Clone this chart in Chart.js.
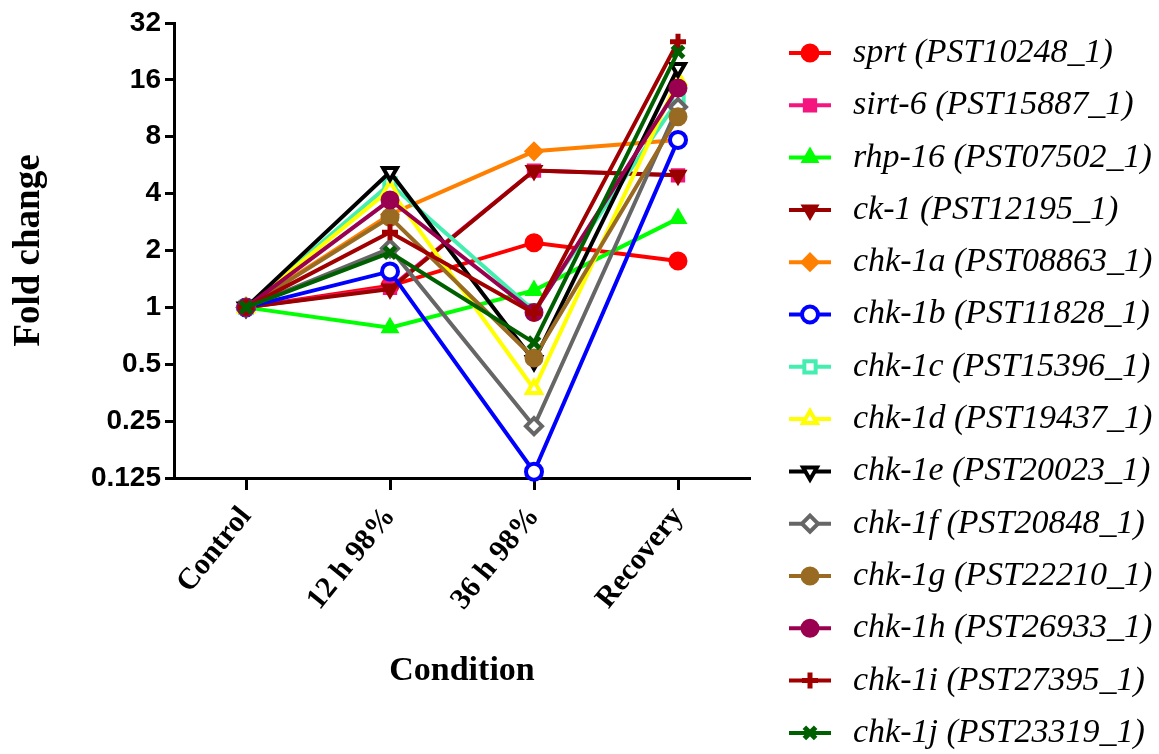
<!DOCTYPE html>
<html lang="en">
<head>
  <meta charset="UTF-8" />
  <title>Fold change</title>
  <script src="https://cdn.jsdelivr.net/npm/chart.js"></script>
  <style>
    html, body {
      margin: 0;
      padding: 0;
      background: #ffffff;
    }
    #grafico {
      display: block;
    }
  </style>
</head>
<body>
  <canvas id="grafico" width="1159" height="754"></canvas>

  <script>
    // categories and tick labels
    const categories = ['Control', '12 h 98%', '36 h 98%', 'Recovery'];
    const yTicks = [0.125, 0.25, 0.5, 1, 2, 4, 8, 16, 32];

    // series names (legend)
    const genes = [
      'sprt (PST10248_1)', 'sirt-6 (PST15887_1)', 'rhp-16 (PST07502_1)', 'ck-1 (PST12195_1)',
      'chk-1a (PST08863_1)', 'chk-1b (PST11828_1)', 'chk-1c (PST15396_1)', 'chk-1d (PST19437_1)',
      'chk-1e (PST20023_1)', 'chk-1f (PST20848_1)', 'chk-1g (PST22210_1)', 'chk-1h (PST26933_1)',
      'chk-1i (PST27395_1)', 'chk-1j (PST23319_1)'
    ];

    // fold change values
    const sprt  = [1, 1.30, 2.20, 1.76];
    const sirt6 = [1, 1.27, 5.30, 5.00];
    const rhp16 = [1, 0.78, 1.23, 2.95];
    const ck1   = [1, 1.25, 5.30, 5.00];
    const chk1a = [1, 3.10, 6.70, 7.70];
    const chk1b = [1, 1.55, 0.135, 7.70];
    const chk1c = [1, 4.50, 0.96, 12.5];
    const chk1d = [1, 4.20, 0.37, 16.0];
    const chk1e = [1, 5.20, 0.52, 18.5];
    const chk1f = [1, 2.05, 0.235, 11.5];
    const chk1g = [1, 3.00, 0.54, 10.2];
    const chk1h = [1, 3.70, 0.94, 14.5];
    const chk1i = [1, 2.50, 0.93, 25.5];
    const chk1j = [1, 1.95, 0.65, 22.5];

    const series = [sprt, sirt6, rhp16, ck1, chk1a, chk1b, chk1c, chk1d, chk1e, chk1f, chk1g, chk1h, chk1i, chk1j];

    // look of each series: colour, marker, rotation, open marker?
    const estilos = [
      { cor: '#ff0000', ponto: 'circle',   rot: 0,   aberto: false },
      { cor: '#f5157f', ponto: 'rect',     rot: 0,   aberto: false },
      { cor: '#00ff00', ponto: 'triangle', rot: 0,   aberto: false },
      { cor: '#990000', ponto: 'triangle', rot: 180, aberto: false },
      { cor: '#ff8000', ponto: 'rectRot',  rot: 0,   aberto: false },
      { cor: '#0000ff', ponto: 'circle',   rot: 0,   aberto: true },
      { cor: '#44eeb0', ponto: 'rect',     rot: 0,   aberto: true },
      { cor: '#ffff00', ponto: 'triangle', rot: 0,   aberto: true },
      { cor: '#000000', ponto: 'triangle', rot: 180, aberto: true },
      { cor: '#666666', ponto: 'rectRot',  rot: 0,   aberto: true },
      { cor: '#996a22', ponto: 'circle',   rot: 0,   aberto: false },
      { cor: '#9a0050', ponto: 'circle',   rot: 0,   aberto: false },
      { cor: '#a00000', ponto: 'cross',    rot: 0,   aberto: false },
      { cor: '#005f00', ponto: 'crossRot', rot: 0,   aberto: false }
    ];

    const datasets = series.map((valores, i) => {
      const e = estilos[i];
      return {
        label: genes[i],
        data: valores,
        borderColor: e.cor,
        borderWidth: 4,
        pointStyle: e.ponto,
        pointRotation: e.rot,
        pointRadius: 8,
        pointHoverRadius: 8,
        pointBorderWidth: e.ponto.startsWith('cross') ? 5 : (e.aberto ? 4 : 3),
        pointBorderColor: e.cor,
        pointBackgroundColor: e.aberto ? '#ffffff' : e.cor,
        order: series.length - i,
        clip: false,
        tension: 0
      };
    });

    // legend on the right: line + marker + italic name
    const legendaLateral = {
      id: 'legendaLateral',
      afterDraw(chart) {
        const ctx = chart.ctx;
        chart.data.datasets.forEach((ds, i) => {
          const y = 53 + i * 52.3;
          ctx.save();
          ctx.strokeStyle = ds.borderColor;
          ctx.lineWidth = 4;
          ctx.beginPath();
          ctx.moveTo(789, y);
          ctx.lineTo(831, y);
          ctx.stroke();
          ctx.fillStyle = ds.pointBackgroundColor;
          ctx.strokeStyle = ds.pointBorderColor;
          ctx.lineWidth = ds.pointBorderWidth;
          Chart.helpers.drawPoint(ctx, {
            pointStyle: ds.pointStyle,
            rotation: ds.pointRotation,
            radius: 8,
            borderWidth: ds.pointBorderWidth
          }, 810, y);
          ctx.fillStyle = '#000000';
          ctx.font = 'italic 34px "Liberation Serif"';
          ctx.textBaseline = 'middle';
          ctx.textAlign = 'left';
          ctx.fillText(ds.label, 853, y);
          ctx.restore();
        });
      }
    };

    const ctx = document.getElementById('grafico').getContext('2d');
    new Chart(ctx, {
      type: 'line',
      data: {
        labels: categories,
        datasets: datasets
      },
      options: {
        responsive: false,
        animation: false,
        devicePixelRatio: 1,
        layout: {
          padding: { left: 0, top: 23, right: 409, bottom: 0 }
        },
        plugins: {
          legend: { display: false },
          tooltip: { enabled: false }
        },
        scales: {
          x: {
            offset: true,
            afterFit: s => { s.height = 276; },
            border: { color: '#000000', width: 3 },
            grid: {
              offset: false,
              drawOnChartArea: false,
              drawTicks: true,
              tickLength: 12,
              tickWidth: 3,
              tickColor: '#000000'
            },
            ticks: {
              color: '#000000',
              minRotation: 51,
              maxRotation: 51,
              padding: 10,
              font: { family: '"Liberation Serif"', weight: 'bold', size: 30 }
            },
            title: {
              display: true,
              text: 'Condition',
              color: '#000000',
              padding: { top: 0, bottom: 62 },
              font: { family: '"Liberation Serif"', weight: 'bold', size: 34 }
            }
          },
          y: {
            type: 'logarithmic',
            min: 0.125,
            max: 32,
            afterFit: s => { s.width = 174; },
            afterBuildTicks: s => { s.ticks = yTicks.map(v => ({ value: v })); },
            border: { color: '#000000', width: 3 },
            grid: {
              drawOnChartArea: false,
              drawTicks: true,
              tickLength: 9,
              tickWidth: 3,
              tickColor: '#000000'
            },
            ticks: {
              color: '#000000',
              padding: 4,
              autoSkip: false,
              callback: v => String(v),
              font: { family: '"Liberation Sans"', weight: 'bold', size: 28 }
            },
            title: {
              display: true,
              text: 'Fold change',
              color: '#000000',
              padding: { top: 7, bottom: 0 },
              font: { family: '"Liberation Serif"', weight: 'bold', size: 37 }
            }
          }
        }
      },
      plugins: [legendaLateral]
    });
  </script>
</body>
</html>
